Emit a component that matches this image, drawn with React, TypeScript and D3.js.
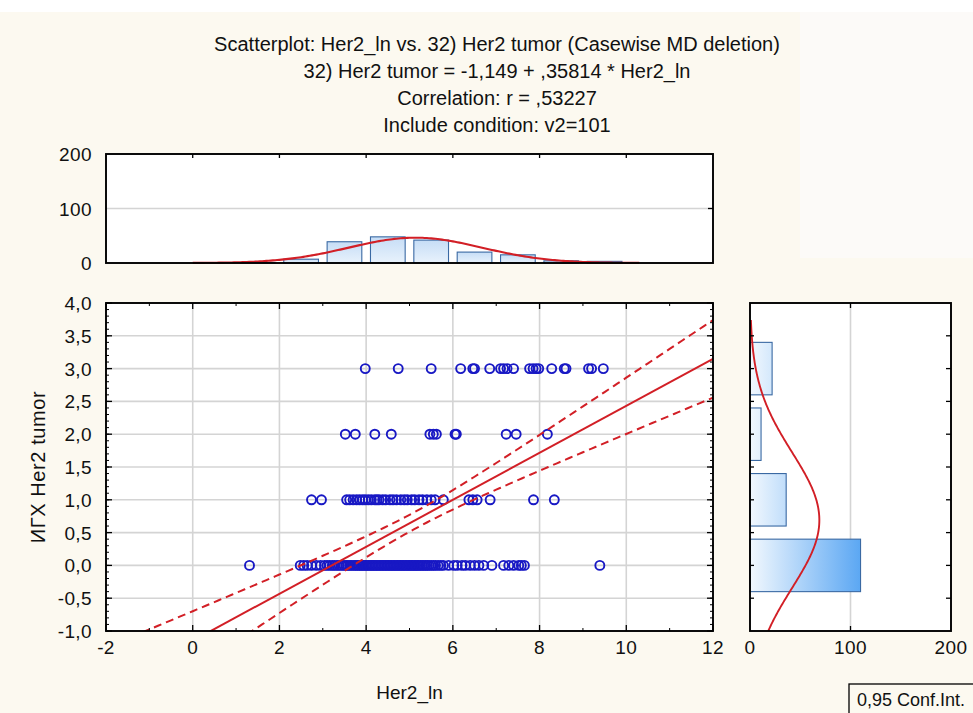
import React from 'react';
import * as d3 from 'd3';

const W = 973, H = 713;

const titleLines = [
  'Scatterplot: Her2_ln vs. 32) Her2 tumor (Casewise MD deletion)',
  '32) Her2 tumor = -1,149 + ,35814 * Her2_ln',
  'Correlation: r = ,53227',
  'Include condition: v2=101',
];
const xLabel = 'Her2_ln';
const yLabel = 'ИГХ Her2 tumor';
const legendLabel = '0,95 Conf.Int.';

const xTicks = [-2, 0, 2, 4, 6, 8, 10, 12];
const yTicks = [-1, -0.5, 0, 0.5, 1, 1.5, 2, 2.5, 3, 3.5, 4];
const histTicks = [0, 100, 200];

// scatter rows (x values) for y = 3, 2, 1, 0
const row3 = [3.98, 4.74, 5.5, 6.18, 6.46, 6.5, 6.85, 7.1, 7.17, 7.25, 7.4, 7.77, 7.85, 7.92, 7.98, 8.28, 8.57, 8.61, 9.13, 9.2, 9.47];
const row2 = [3.52, 3.75, 4.2, 4.58, 5.47, 5.55, 5.62, 6.05, 6.08, 7.23, 7.46, 8.18];
const row1 = [2.74, 2.97, 3.55, 3.62, 3.7, 3.78, 3.85, 3.92, 3.98, 4.05, 4.12, 4.2, 4.25, 4.3, 4.38, 4.45, 4.55, 4.62, 4.7, 4.8, 4.88, 4.95, 5.05, 5.12, 5.22, 5.3, 5.4, 5.5, 5.59, 5.78, 6.37, 6.46, 6.56, 6.86, 7.86, 8.34];
const row0 = [1.31, 2.48, 2.56, 2.64, 2.74, 2.85, 2.95, 3.04, 3.1, 3.16, 3.22, 3.27, 3.33, 3.38, 3.44, 3.49, 3.54, 3.58, 3.63, 3.67, 3.72, 3.76, 3.8, 3.84, 3.88, 3.91, 3.95, 3.99, 4.02, 4.06, 4.09, 4.13, 4.16, 4.2, 4.23, 4.27, 4.3, 4.34, 4.37, 4.41, 4.44, 4.48, 4.51, 4.55, 4.58, 4.62, 4.65, 4.69, 4.72, 4.76, 4.79, 4.83, 4.86, 4.9, 4.93, 4.97, 5.0, 5.04, 5.07, 5.11, 5.14, 5.18, 5.21, 5.25, 5.29, 5.33, 5.37, 5.41, 5.45, 5.5, 5.55, 5.6, 5.66, 5.72, 5.78, 5.9, 6.02, 6.1, 6.21, 6.29, 6.4, 6.5, 6.6, 6.71, 6.9, 7.17, 7.29, 7.4, 7.52, 7.58, 7.65, 9.39];

// histograms
const topBinStarts = [1, 2, 3, 4, 5, 6, 7, 8, 9];
const topCounts = [1, 7, 39, 48, 42, 20, 15, 4, 3];
const rightBinCenters = [0, 1, 2, 3];
const rightCounts = [110, 36, 11, 22];

// fit statistics
const intercept = -1.149, slope = 0.35814;
const nObs = 179, meanX = 5.135, sdX = 1.537, meanY = 0.69, sdY = 1.035, residSD = 0.876, tCrit = 1.973;

const FONT = '"Liberation Sans", Arial, sans-serif';
const RED = '#d21f26';
const BLUE = '#1818c4';
const GRID = '#d4d4d4';

const fmt1 = (v: number) => v.toFixed(1).replace('.', ',');

export default function App() {
  const main = { l: 106, r: 713, t: 303, b: 631 };
  const top = { l: 106, r: 713, t: 154, b: 263 };
  const side = { l: 750, r: 951, t: 303, b: 631 };

  const x = d3.scaleLinear().domain([-2, 12]).range([main.l, main.r]);
  const y = d3.scaleLinear().domain([-1, 4]).range([main.b, main.t]);
  const hy = d3.scaleLinear().domain([0, 200]).range([top.b, top.t]);
  const hx = d3.scaleLinear().domain([0, 200]).range([side.l, side.r]);

  const points = [
    ...row3.map((v) => [v, 3]),
    ...row2.map((v) => [v, 2]),
    ...row1.map((v) => [v, 1]),
    ...row0.map((v) => [v, 0]),
  ];

  const Sxx = nObs * sdX * sdX;
  const hw = (v: number) => tCrit * residSD * Math.sqrt(1 / nObs + ((v - meanX) ** 2) / Sxx);
  const xs = d3.range(-2, 12.001, 0.1);
  const line = d3.line<[number, number]>().x((d) => x(d[0])).y((d) => y(d[1]));
  const regPath = line([[-2, intercept + slope * -2], [12, intercept + slope * 12]]);
  const upPath = line(xs.map((v) => [v, intercept + slope * v + hw(v)] as [number, number]));
  const loPath = line(xs.map((v) => [v, intercept + slope * v - hw(v)] as [number, number]));

  const normTop = (v: number) => nObs / (sdX * Math.sqrt(2 * Math.PI)) * Math.exp(-0.5 * ((v - meanX) / sdX) ** 2);
  const normSide = (v: number) => nObs / (sdY * Math.sqrt(2 * Math.PI)) * Math.exp(-0.5 * ((v - meanY) / sdY) ** 2);
  const topCurve = d3.line<number>().x((v) => x(v)).y((v) => hy(normTop(v)))(d3.range(0, 10.31, 0.05));
  const sideCurve = d3.line<number>().x((v) => hx(normSide(v))).y((v) => y(v))(d3.range(-1, 3.76, 0.02));

  const minorY = d3.range(-1, 4.001, 0.1);
  const minorX = d3.range(-1, 12, 2);

  const tickStyle = { stroke: '#000', strokeWidth: 1.3 };
  const lblProps = { fontSize: 19, fill: '#111', letterSpacing: 0.4 };

  return (
    <svg width={W} height={H} style={{ position: 'absolute', left: 0, top: 0, fontFamily: FONT }}>
      <defs>
        <clipPath id="mainClip">
          <rect x={main.l} y={main.t} width={main.r - main.l} height={main.b - main.t} />
        </clipPath>
        <linearGradient id="topGrad" x1="0" y1="0" x2="0" y2="1">
          <stop offset="0" stopColor="#c6ddf6" />
          <stop offset="1" stopColor="#e8f2fc" />
        </linearGradient>
        <linearGradient id="sideGrad" gradientUnits="userSpaceOnUse" x1={hx(0)} y1="0" x2={hx(110)} y2="0">
          <stop offset="0" stopColor="#f2f8fe" />
          <stop offset="1" stopColor="#5ba7f3" />
        </linearGradient>
      </defs>

      <rect x={0} y={0} width={W} height={H} fill="#fcf9f0" />
      <rect x={0} y={0} width={W} height={12} fill="#ffffff" />
      <rect x={800} y={12} width={W - 800} height={246} fill="#fcfaf8" />

      {/* titles */}
      {titleLines.map((t, i) => (
        <text key={i} x={497} y={51 + i * 27} textAnchor="middle" fontSize={20} fill="#111">
          {t}
        </text>
      ))}

      {/* top histogram */}
      <rect x={top.l} y={top.t} width={top.r - top.l} height={top.b - top.t} fill="#fff" />
      <line x1={top.l} x2={top.r} y1={hy(100)} y2={hy(100)} stroke={GRID} strokeWidth={1.5} />
      {topBinStarts.map((b, i) => (
        <rect key={i} x={x(b + 0.1)} y={hy(topCounts[i])} width={x(b + 0.9) - x(b + 0.1)} height={hy(0) - hy(topCounts[i])}
          fill="url(#topGrad)" stroke="#3a69a3" strokeWidth={1.1} />
      ))}
      <path d={topCurve || ''} fill="none" stroke={RED} strokeWidth={2.1} />
      <rect x={top.l} y={top.t} width={top.r - top.l} height={top.b - top.t} fill="none" stroke="#000" strokeWidth={1.9} />
      {xTicks.slice(1, -1).map((t) => (
        <line key={t} x1={x(t)} x2={x(t)} y1={top.t} y2={top.t + 4} {...tickStyle} />
      ))}
      <line x1={top.r} x2={top.r - 5} y1={hy(100)} y2={hy(100)} {...tickStyle} />
      {histTicks.map((t) => (
        <text key={t} x={92} y={hy(t) + 7} textAnchor="end" {...lblProps}>{t}</text>
      ))}

      {/* main scatter */}
      <rect x={main.l} y={main.t} width={main.r - main.l} height={main.b - main.t} fill="#fff" />
      {xTicks.slice(1, -1).map((t) => (
        <line key={'gx' + t} x1={x(t)} x2={x(t)} y1={main.t} y2={main.b} stroke={GRID} strokeWidth={1.6} />
      ))}
      {yTicks.slice(1, -1).map((t) => (
        <line key={'gy' + t} x1={main.l} x2={main.r} y1={y(t)} y2={y(t)} stroke={GRID} strokeWidth={1.6} />
      ))}
      <g clipPath="url(#mainClip)">
        {points.map((p, i) => (
          <circle key={i} cx={x(p[0])} cy={y(p[1])} r={4.5} fill="none" stroke={BLUE} strokeWidth={1.9} />
        ))}
        <path d={regPath || ''} fill="none" stroke={RED} strokeWidth={2} />
        <path d={upPath || ''} fill="none" stroke={RED} strokeWidth={2} strokeDasharray="8,5" />
        <path d={loPath || ''} fill="none" stroke={RED} strokeWidth={2} strokeDasharray="8,5" />
      </g>
      <rect x={main.l} y={main.t} width={main.r - main.l} height={main.b - main.t} fill="none" stroke="#000" strokeWidth={1.9} />
      {yTicks.map((t) => (
        <g key={'ty' + t}>
          <line x1={main.l} x2={main.l + 6} y1={y(t)} y2={y(t)} {...tickStyle} />
          <line x1={main.r} x2={main.r - 6} y1={y(t)} y2={y(t)} {...tickStyle} />
          <text x={92} y={y(t) + 7} textAnchor="end" {...lblProps}>{fmt1(t)}</text>
        </g>
      ))}
      {minorY.map((t, i) => (
        <g key={'my' + i}>
          <line x1={main.l} x2={main.l + 3} y1={y(t)} y2={y(t)} stroke="#000" strokeWidth={1} />
          <line x1={main.r} x2={main.r - 3} y1={y(t)} y2={y(t)} stroke="#000" strokeWidth={1} />
        </g>
      ))}
      {xTicks.map((t) => (
        <g key={'tx' + t}>
          <line x1={x(t)} x2={x(t)} y1={main.b} y2={main.b - 6} {...tickStyle} />
          <line x1={x(t)} x2={x(t)} y1={main.t} y2={main.t + 6} {...tickStyle} />
          <text x={x(t)} y={main.b + 23} textAnchor="middle" {...lblProps}>{t}</text>
        </g>
      ))}
      {minorX.map((t) => (
        <g key={'mx' + t}>
          <line x1={x(t)} x2={x(t)} y1={main.b} y2={main.b - 3} stroke="#000" strokeWidth={1} />
          <line x1={x(t)} x2={x(t)} y1={main.t} y2={main.t + 3} stroke="#000" strokeWidth={1} />
        </g>
      ))}
      <text x={(main.l + main.r) / 2} y={699} textAnchor="middle" fontSize={19} fill="#111">{xLabel}</text>
      <text transform={`translate(45,${(main.t + main.b) / 2}) rotate(-90)`} textAnchor="middle" fontSize={20} fill="#111" letterSpacing={0.6}>{yLabel}</text>

      {/* side histogram */}
      <rect x={side.l} y={side.t} width={side.r - side.l} height={side.b - side.t} fill="#fff" />
      <line x1={hx(100)} x2={hx(100)} y1={side.t} y2={side.b} stroke={GRID} strokeWidth={1.6} />
      {rightBinCenters.map((c, i) => (
        <rect key={i} x={hx(0)} y={y(c + 0.4)} width={hx(rightCounts[i]) - hx(0)} height={y(c - 0.4) - y(c + 0.4)}
          fill="url(#sideGrad)" stroke="#3a69a3" strokeWidth={1.1} />
      ))}
      <path d={sideCurve || ''} fill="none" stroke={RED} strokeWidth={1.9} />
      <rect x={side.l} y={side.t} width={side.r - side.l} height={side.b - side.t} fill="none" stroke="#000" strokeWidth={1.9} />
      {yTicks.slice(1, -1).map((t) => (
        <g key={'sy' + t}>
          <line x1={side.l} x2={side.l + 4} y1={y(t)} y2={y(t)} {...tickStyle} />
          <line x1={side.r} x2={side.r - 5} y1={y(t)} y2={y(t)} {...tickStyle} />
        </g>
      ))}
      <line x1={hx(100)} x2={hx(100)} y1={side.t} y2={side.t + 5} {...tickStyle} />
      <line x1={hx(100)} x2={hx(100)} y1={side.b} y2={side.b - 5} {...tickStyle} />
      {histTicks.map((t) => (
        <text key={'hx' + t} x={hx(t)} y={main.b + 23} textAnchor="middle" {...lblProps}>{t}</text>
      ))}

      {/* legend */}
      <rect x={849} y={684} width={140} height={40} fill="#fcf9f0" stroke="#000" strokeWidth={1.3} />
      <text x={857} y={706} fontSize={18} fill="#111">{legendLabel}</text>
    </svg>
  );
}
